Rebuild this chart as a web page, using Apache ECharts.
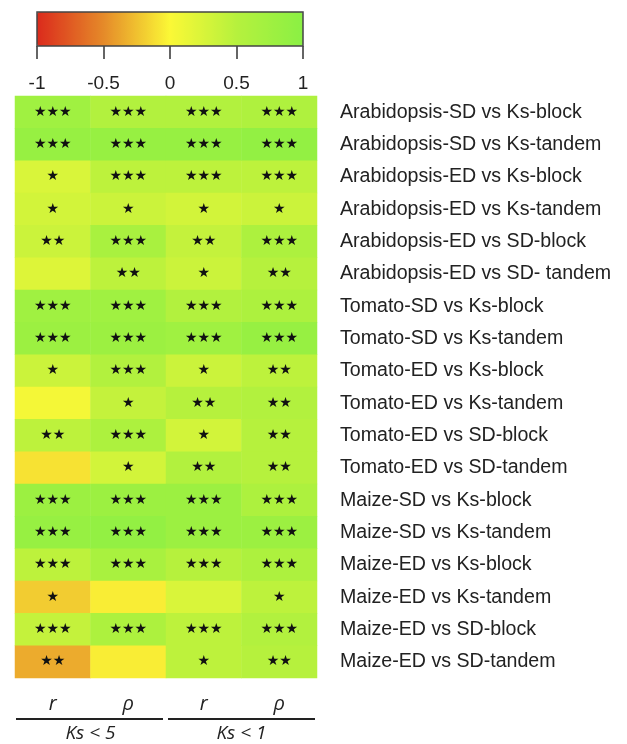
<!DOCTYPE html>
<html>
<head>
<meta charset="utf-8">
<script src="https://cdn.jsdelivr.net/npm/echarts@6/dist/echarts.min.js"></script>
<style>
  html, body { margin: 0; padding: 0; background: #fff; }
  #chart { width: 627px; height: 744px; }
</style>
</head>
<body>
<div id="chart"></div>
<script>
// Row labels (top to bottom)
const comparisons = [
  'Arabidopsis-SD vs Ks-block',
  'Arabidopsis-SD vs Ks-tandem',
  'Arabidopsis-ED vs Ks-block',
  'Arabidopsis-ED vs Ks-tandem',
  'Arabidopsis-ED vs SD-block',
  'Arabidopsis-ED vs SD- tandem',
  'Tomato-SD vs Ks-block',
  'Tomato-SD vs Ks-tandem',
  'Tomato-ED vs Ks-block',
  'Tomato-ED vs Ks-tandem',
  'Tomato-ED vs SD-block',
  'Tomato-ED vs SD-tandem',
  'Maize-SD vs Ks-block',
  'Maize-SD vs Ks-tandem',
  'Maize-ED vs Ks-block',
  'Maize-ED vs Ks-tandem',
  'Maize-ED vs SD-block',
  'Maize-ED vs SD-tandem'
];

// Column labels: Pearson r and Spearman rho, for Ks < 5 and Ks < 1
const statLabels = ['r', 'ρ', 'r', 'ρ'];
const ksGroups = ['Ks < 5', 'Ks < 1'];

// Correlation coefficients per column
const rKs5 =   [0.75, 0.85, 0.25, 0.30, 0.35, 0.22, 0.75, 0.80, 0.35, 0.05, 0.45, -0.10, 0.80, 0.85, 0.45, -0.20, 0.40, -0.35];
const rhoKs5 = [0.55, 0.85, 0.45, 0.35, 0.65, 0.45, 0.75, 0.80, 0.55, 0.40, 0.60, 0.30, 0.80, 0.90, 0.65, -0.05, 0.60, -0.05];
const rKs1 =   [0.55, 0.85, 0.45, 0.30, 0.40, 0.35, 0.55, 0.75, 0.35, 0.50, 0.30, 0.55, 0.80, 0.80, 0.50, 0.25, 0.45, 0.45];
const rhoKs1 = [0.58, 0.90, 0.45, 0.35, 0.60, 0.50, 0.60, 0.85, 0.45, 0.55, 0.50, 0.50, 0.60, 0.80, 0.60, 0.45, 0.55, 0.50];

// Significance marks per column
const sigRKs5 =   ['***','***','*','*','**','','***','***','*','','**','','***','***','***','*','***','**'];
const sigRhoKs5 = ['***','***','***','*','***','**','***','***','***','*','***','*','***','***','***','','***',''];
const sigRKs1 =   ['***','***','***','*','**','*','***','***','*','**','*','**','***','***','***','','***','*'];
const sigRhoKs1 = ['***','***','***','*','***','**','***','***','**','**','**','**','***','***','***','*','***','**'];

// Colour bar ticks
const scaleTicks = [-1, -0.5, 0, 0.5, 1];

const columns = [rKs5, rhoKs5, rKs1, rhoKs1];
const sigColumns = [sigRKs5, sigRhoKs5, sigRKs1, sigRhoKs1];

const cells = [];
columns.forEach((col, ci) => {
  col.forEach((v, ri) => {
    cells.push([ci, ri, v, sigColumns[ci][ri]]);
  });
});

// significance asterisks drawn as filled stars
const starText = s => s.replace(/\*/g, '★');

const chart = echarts.init(document.getElementById('chart'), null, { renderer: 'canvas' });

const heatLeft = 15, heatRight = 317, heatTop = 96, heatBottom = 678;

chart.setOption({
  backgroundColor: '#ffffff',
  animation: false,
  textStyle: { fontFamily: 'Liberation Sans, Arial, sans-serif' },
  grid: [
    { left: heatLeft, top: heatTop, width: heatRight - heatLeft, height: heatBottom - heatTop },
    // frame + tick scale under the colour bar
    { left: 37, top: 12, width: 266, height: 34, show: true, z: 10,
      borderColor: '#444', borderWidth: 1.5, backgroundColor: 'transparent' }
  ],
  xAxis: [
    {
      type: 'category', gridIndex: 0, data: statLabels, position: 'bottom',
      axisLine: { show: false }, axisTick: { show: false }, splitLine: { show: false },
      axisLabel: { margin: 16, fontSize: 20, fontStyle: 'italic', color: '#222',
        fontFamily: 'Open Sans, Liberation Sans, sans-serif' }
    },
    {
      type: 'category', gridIndex: 0, data: ksGroups, position: 'bottom', offset: 46,
      axisLine: { show: false }, axisTick: { show: false }, splitLine: { show: false },
      axisLabel: { margin: 0, fontSize: 19, fontStyle: 'italic', color: '#222',
        fontFamily: 'Open Sans, Liberation Sans, sans-serif' }
    },
    {
      type: 'value', gridIndex: 1, min: -1, max: 1, interval: 0.5, position: 'bottom',
      axisLine: { show: false },
      axisTick: { show: true, length: 13, lineStyle: { color: '#333', width: 1.5 } },
      splitLine: { show: false },
      axisLabel: { margin: 28, fontSize: 19, color: '#222',
        customValues: scaleTicks,
        formatter: v => String(v) }
    }
  ],
  yAxis: [
    {
      type: 'category', gridIndex: 0, data: comparisons, inverse: true, position: 'right',
      axisLine: { show: false }, axisTick: { show: false }, splitLine: { show: false },
      axisLabel: { margin: 23, fontSize: 19.6, color: '#222', align: 'left' }
    },
    {
      type: 'value', gridIndex: 1, show: false, min: 0, max: 1
    }
  ],
  visualMap: {
    type: 'continuous',
    min: -1, max: 1,
    dimension: 2,
    orient: 'horizontal',
    left: 37, top: 12,
    padding: 0,
    itemWidth: 34,
    itemHeight: 266,
    calculable: false,
    showLabel: false,
    text: null,
    seriesIndex: 0,
    inRange: { color: ['#db2a1c', '#e58a29', '#fbf836', '#b6f13d', '#8af044'] }
  },
  series: [
    {
      type: 'heatmap',
      xAxisIndex: 0, yAxisIndex: 0,
      data: cells,
      encode: { x: 0, y: 1, value: 2 },
      itemStyle: { borderWidth: 0 },
      label: {
        show: true,
        formatter: p => starText(p.data[3]),
        color: '#111',
        fontSize: 14,
        fontFamily: 'DejaVu Sans, sans-serif',
        offset: [0, 0]
      },
      emphasis: { disabled: true }
    }
  ],
  graphic: [
    { type: 'line', shape: { x1: 16, y1: 719, x2: 163, y2: 719 }, style: { stroke: '#222', lineWidth: 2 } },
    { type: 'line', shape: { x1: 168, y1: 719, x2: 315, y2: 719 }, style: { stroke: '#222', lineWidth: 2 } }
  ]
});
</script>
</body>
</html>
